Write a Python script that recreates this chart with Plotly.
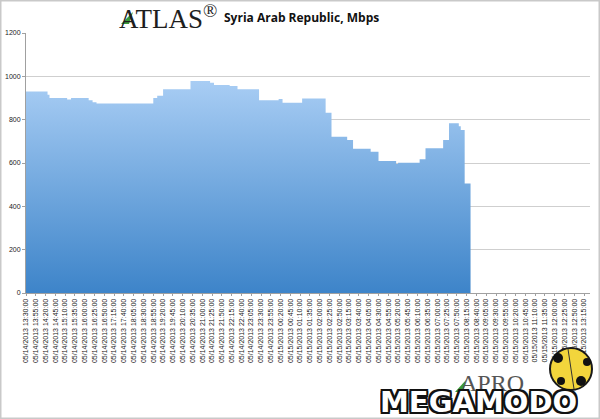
import plotly.graph_objects as go

# ---- data ----
step_times = [
    "2013-05-14 13:30", "2013-05-14 14:25", "2013-05-14 14:30", "2013-05-14 15:15",
    "2013-05-14 15:25", "2013-05-14 16:10", "2013-05-14 16:20", "2013-05-14 16:30",
    "2013-05-14 18:55", "2013-05-14 19:05", "2013-05-14 19:20", "2013-05-14 20:30",
    "2013-05-14 21:20", "2013-05-14 21:30", "2013-05-14 22:10", "2013-05-14 22:30",
    "2013-05-14 23:25", "2013-05-15 00:15", "2013-05-15 00:25", "2013-05-15 01:15",
    "2013-05-15 02:15", "2013-05-15 02:30", "2013-05-15 03:10", "2013-05-15 03:25",
    "2013-05-15 04:10", "2013-05-15 04:30", "2013-05-15 05:15", "2013-05-15 05:20",
    "2013-05-15 06:15", "2013-05-15 06:30", "2013-05-15 07:15", "2013-05-15 07:30",
    "2013-05-15 07:55", "2013-05-15 08:00", "2013-05-15 08:10", "2013-05-15 08:25",
]
mbps = [
    930, 915, 900, 893,
    900, 890, 880, 875,
    900, 910, 940, 978,
    970, 960, 955, 940,
    890, 895, 878, 898,
    832, 721, 706, 666,
    652, 609, 595, 601,
    617, 668, 706, 783,
    770, 752, 505, 0,
]
axis_start = "2013-05-14 13:30:00"
axis_end = "2013-05-15 13:30:00"
tick_step_ms = 25 * 60 * 1000
y_ticks = [0, 200, 400, 600, 800, 1000, 1200]
title_brand = "ATLAS"
title_text = "Syria Arab Republic, Mbps"

# ---- layout geometry (pixels) ----
W, H = 600, 419
ML, MR, MT, MB = 26, 10, 33, 126
PW, PH = W - ML - MR, H - MT - MB


def px(x):
    return (x - ML) / PW


def py(y):
    return (H - MB - y) / PH


fig = go.Figure()
fig.add_trace(go.Scatter(
    x=step_times, y=mbps, mode="lines", line=dict(shape="hv", width=0, color="#6fa8e0"),
    fill="tozeroy",
    fillgradient=dict(type="vertical",
                      colorscale=[[0, "#3d84c9"], [1, "#a8cdf4"]]),
    hoverinfo="x+y", showlegend=False,
))

shapes = []
# outer frame
shapes.append(dict(type="rect", xref="paper", yref="paper",
                   x0=px(0.5), x1=px(599.5), y0=py(418.5), y1=py(0.5),
                   line=dict(color="#c9c9c9", width=2), layer="below"))
# leaf on ATLAS
shapes.append(dict(type="path", xref="paper", yref="paper",
                   path=f"M {px(121)},{py(24)} L {px(133)},{py(12)} L {px(129)},{py(24)} Z",
                   fillcolor="#3a9a3a", line=dict(width=0), layer="above"))
# leaf near APRO
shapes.append(dict(type="path", xref="paper", yref="paper",
                   path=f"M {px(455)},{py(392)} L {px(466)},{py(380)} L {px(463)},{py(392)} Z",
                   fillcolor="#3a9a3a", line=dict(width=0), layer="above"))
# ladybug
cx, cy, r = 571, 369, 21
shapes.append(dict(type="circle", xref="paper", yref="paper",
                   x0=px(cx - r), x1=px(cx + r), y0=py(cy + r), y1=py(cy - r),
                   fillcolor="#f2d53c", line=dict(color="#1a1a1a", width=2), layer="above"))
for (sx, sy, sr) in [(558, 358, 5), (587, 362, 4), (581, 381, 5), (561, 381, 4)]:
    shapes.append(dict(type="circle", xref="paper", yref="paper",
                       x0=px(sx - sr), x1=px(sx + sr), y0=py(sy + sr), y1=py(sy - sr),
                       fillcolor="#111111", line=dict(width=0), layer="above"))
shapes.append(dict(type="line", xref="paper", yref="paper",
                   x0=px(568), x1=px(574), y0=py(349), y1=py(389),
                   line=dict(color="#333333", width=1), layer="above"))

outline = ("2px 0 0 #111, -2px 0 0 #111, 0 2px 0 #111, 0 -2px 0 #111, "
           "2px 2px 0 #111, -2px -2px 0 #111, 2px -2px 0 #111, -2px 2px 0 #111")

annotations = [
    dict(xref="paper", yref="paper", x=px(117), y=py(17), xanchor="left", yanchor="middle",
         text=title_brand + "<sup>®</sup>", showarrow=False,
         font=dict(family="Liberation Serif", size=27, color="#1e1e1e")),
    dict(xref="paper", yref="paper", x=px(222), y=py(17), xanchor="left", yanchor="middle",
         text="<b>" + title_text + "</b>", showarrow=False,
         font=dict(family="Open Sans", size=12, color="#111111")),
    dict(xref="paper", yref="paper", x=px(458), y=py(383), xanchor="left", yanchor="middle",
         text="APRO", showarrow=False,
         font=dict(family="Liberation Serif", size=24, color="#555555")),
    dict(xref="paper", yref="paper", x=px(478), y=py(402), xanchor="center", yanchor="middle",
         text="<b>MEGAMODO</b>", showarrow=False,
         font=dict(family="DejaVu Sans", size=29, color="#ffffff", shadow=outline)),
]

fig.update_layout(
    width=W, height=H,
    margin=dict(l=ML, r=MR, t=MT, b=MB, autoexpand=False),
    paper_bgcolor="white", plot_bgcolor="white",
    shapes=shapes, annotations=annotations,
    xaxis=dict(type="date", range=[axis_start, axis_end], automargin=False,
               tick0=axis_start, dtick=tick_step_ms,
               tickformat="%m/%d/%Y %H:%M:%S", tickangle=-90,
               tickfont=dict(family="Liberation Sans", size=7, color="#222222"),
               showgrid=False, showline=True, linecolor="#a0a0a0", linewidth=1,
               ticks="outside", ticklen=2, tickcolor="#a0a0a0", zeroline=False),
    yaxis=dict(range=[0, 1200], tickvals=y_ticks, automargin=False,
               tickfont=dict(family="Liberation Sans", size=7, color="#222222"),
               showgrid=True, gridcolor="#cfcfcf", gridwidth=1,
               showline=True, linecolor="#a0a0a0", linewidth=1,
               ticks="outside", ticklen=3, tickcolor="#a0a0a0", zeroline=False),
)

fig.write_html("out.html", config={"displayModeBar": False},
               post_script="document.body.style.margin='0';")
